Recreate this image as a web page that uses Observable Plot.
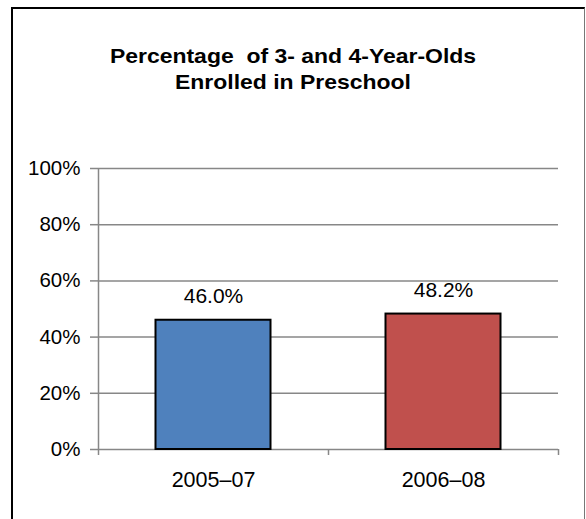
<!DOCTYPE html>
<html>
<head>
<meta charset="utf-8">
<script src="https://cdn.jsdelivr.net/npm/d3@7"></script>
<script src="https://cdn.jsdelivr.net/npm/@observablehq/plot@0.6"></script>
<style>
  body { margin: 0; background: #fff; }
  #chart { position: relative; width: 586px; height: 519px; overflow: hidden; font-family: "Liberation Sans", Arial, sans-serif; }
  #frame { position: absolute; left: 11px; top: 7px; width: 571px; height: 540px; border-left: 2px solid #000; border-top: 2px solid #000; border-right: 1px solid #777; }
  #title { position: absolute; left: 0; top: 43px; width: 586px; text-align: center; font-weight: bold; font-size: 20.5px; line-height: 26px; color: #000; white-space: pre; transform: scaleX(1.12); transform-origin: 293px 0; }
  #plot { position: absolute; left: 0; top: 0; }
</style>
</head>
<body>
<div id="chart">
  <div id="frame"></div>
  <div id="plot"></div>
  <div id="title">Percentage  of 3- and 4-Year-Olds
Enrolled in Preschool</div>
</div>
<script>
// Share of 3- and 4-year-olds enrolled in preschool, by survey period
const periods = ["2005–07", "2006–08"];
const enrolled = [0.460, 0.482];
const barColors = ["#4F81BD", "#C0504D"];
const yTicks = [0, 0.2, 0.4, 0.6, 0.8, 1];

// bars sit in the middle half of each unit-wide slot on a linear x scale
const rows = periods.map((p, i) => ({
  period: p,
  value: enrolled[i],
  x1: i + 0.25,
  x2: i + 0.75,
  xc: i + 0.5,
  color: barColors[i]
}));

const gray = "#878787";

const chart = Plot.plot({
  width: 586,
  height: 519,
  marginTop: 168,
  marginBottom: 70,
  marginLeft: 98,
  marginRight: 28,
  style: { fontFamily: "Liberation Sans, Arial, sans-serif", fontSize: "20px", color: "#000", background: "transparent", overflow: "visible" },
  x: { domain: [0, periods.length] },
  y: { domain: [0, 1] },
  color: { type: "identity" },
  marks: [
    Plot.gridY(yTicks, { stroke: gray, strokeOpacity: 1, strokeWidth: 1.5 }),
    Plot.axisY(yTicks, { tickFormat: d3.format(".0%"), tickSize: 8, tickPadding: 10, stroke: gray, strokeWidth: 1.5, strokeOpacity: 1, label: null, fontSize: 20.5 }),
    Plot.ruleX([0], { stroke: gray, strokeWidth: 1.5 }),
    Plot.axisX(d3.range(periods.length + 1), { tickSize: 6, tickFormat: () => "", stroke: gray, strokeWidth: 1.5, strokeOpacity: 1, label: null }),
    Plot.axisX(rows.map(d => d.xc), { tickSize: 0, tickPadding: 22, tickFormat: d => periods[Math.floor(d)], label: null, fontSize: 21.5 }),
    Plot.rectY(rows, { x1: "x1", x2: "x2", y: "value", fill: "color", stroke: "#000", strokeWidth: 2 }),
    Plot.text(rows, { x: "xc", y: "value", text: d => d3.format(".1%")(d.value), lineAnchor: "bottom", dy: -17, fontSize: 21 })
  ]
});

document.getElementById("plot").appendChild(chart);
</script>
</body>
</html>
